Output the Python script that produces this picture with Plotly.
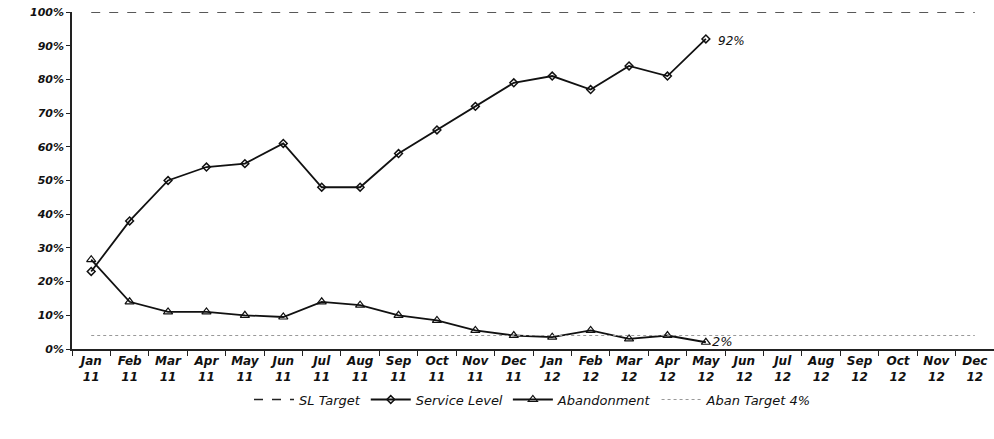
import plotly.graph_objects as go

months = ["Jan", "Feb", "Mar", "Apr", "May", "Jun", "Jul", "Aug", "Sep", "Oct", "Nov", "Dec"]
categories = [f"{m}<br>11" for m in months] + [f"{m}<br>12" for m in months]

service_level = [23, 38, 50, 54, 55, 61, 48, 48, 58, 65, 72, 79, 81, 77, 84, 81, 92]
abandonment = [26.5, 14, 11, 11, 10, 9.5, 14, 13, 10, 8.5, 5.5, 4, 3.5, 5.5, 3, 4, 2]
sl_target = [100] * 24
aban_target = [4] * 24

font_fam = "DejaVu Sans"
fig = go.Figure()

fig.add_trace(go.Scatter(x=categories, y=sl_target, name="SL Target", mode="lines",
                         line=dict(color="#222", width=1.5, dash="dash")))
fig.add_trace(go.Scatter(x=categories[:len(service_level)], y=service_level, name="Service Level",
                         mode="lines+markers",
                         line=dict(color="#111", width=1.8),
                         marker=dict(symbol="diamond-open", size=6, color="#111", line=dict(width=1.5))))
fig.add_trace(go.Scatter(x=categories[:len(abandonment)], y=abandonment, name="Abandonment",
                         mode="lines+markers",
                         line=dict(color="#111", width=1.8),
                         marker=dict(symbol="triangle-up-open", size=8, color="#111", line=dict(width=1.2))))
fig.add_trace(go.Scatter(x=categories, y=aban_target, name="Aban Target 4%", mode="lines",
                         line=dict(color="#999", width=1.2, dash="dot")))

fig.add_annotation(x=categories[len(service_level) - 1], y=service_level[-1], text="92%",
                   showarrow=False, xanchor="left", xshift=10, yshift=-2,
                   font=dict(family=font_fam, size=12, color="#111", style="italic"))
fig.add_annotation(x=categories[len(abandonment) - 1], y=abandonment[-1], text="2%",
                   showarrow=False, xanchor="left", xshift=4, yshift=1,
                   font=dict(family=font_fam, size=13, color="#111", style="italic"))

fig.update_layout(
    width=994, height=439,
    margin=dict(l=72, r=0, t=12, b=90, autoexpand=False),
    paper_bgcolor="white", plot_bgcolor="white",
    font=dict(family=font_fam, color="#111", size=12, style="italic"),
    showlegend=True,
    legend=dict(orientation="h", x=0.5, xanchor="center", y=-0.15, yanchor="middle",
                font=dict(size=13, style="italic"), itemwidth=40),
    xaxis=dict(type="category", range=[-0.5, 23.5], showgrid=False, automargin=False,
               showline=True, linecolor="#222", linewidth=1.5,
               ticks="outside", ticklen=5, tickcolor="#222",
               tickson="boundaries", ticklabeloverflow="allow",
               tickfont=dict(size=12, weight="bold", style="italic")),
    yaxis=dict(range=[0, 100], dtick=10, ticksuffix="%", showgrid=False, automargin=False,
               showline=True, linecolor="#222", linewidth=1.5,
               ticks="outside", ticklen=4, tickcolor="#222", ticklabeloverflow="allow",
               tickfont=dict(size=11, weight="bold", style="italic"), zeroline=False),
)

fig.write_html("out.html", config={"displayModeBar": False},
               post_script="document.body.style.margin='0';document.body.style.overflow='hidden';")
